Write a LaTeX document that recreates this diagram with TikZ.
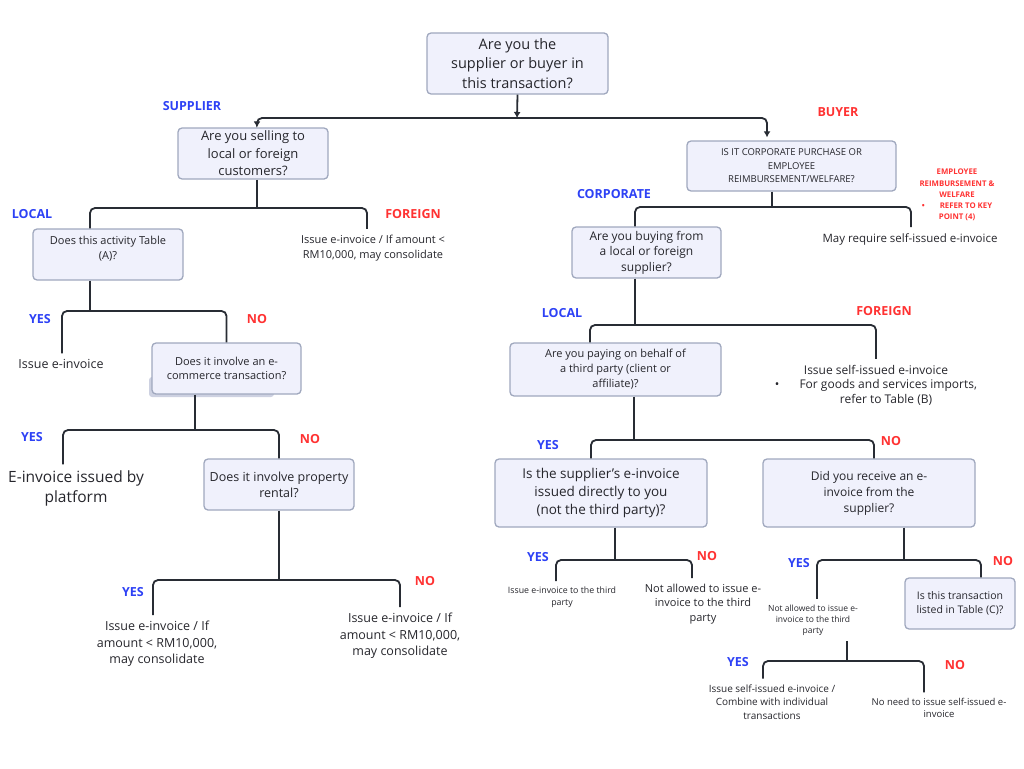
\documentclass[tikz,border=0pt]{standalone}
\usepackage{fontspec}
\setmainfont{Open Sans}
\usepackage{xcolor}
\usetikzlibrary{positioning, arrows.meta, calc}
\definecolor{flowink}{RGB}{38,38,44}
\definecolor{flowline}{RGB}{40,44,52}
\definecolor{flowfill}{RGB}{240,241,252}
\definecolor{flowedge}{RGB}{160,168,190}
\definecolor{flowshade}{RGB}{205,209,225}
\definecolor{flowblue}{RGB}{45,65,245}
\definecolor{flowred}{RGB}{255,50,50}
\newcommand{\fsz}[2]{\fontsize{#1}{#2}\selectfont}
\tikzset{
  qbox/.style={draw=flowedge, fill=flowfill, rounded corners=4pt, line width=1.3pt, align=center, text=flowink, inner sep=0pt},
  outtext/.style={align=center, text=flowink, inner sep=2pt, outer sep=4pt},
  yeslbl/.style={text=flowblue, font=\bfseries\fsz{12.5}{14}},
  nolbl/.style={text=flowred, font=\bfseries\fsz{12.5}{14}},
  branch/.style={draw=flowline, line width=1.8pt, rounded corners=5pt},
  arr/.style={branch, -{Latex[length=6pt, width=7pt]}}
}

\begin{document}
\begin{tikzpicture}[x=1pt, y=-1pt]
    \useasboundingbox (0,0) rectangle (1024,768);

    % question boxes
    \node[qbox, minimum width=181pt, minimum height=61pt, font=\fsz{14.5}{19.5}] (q0) at (517.5,63.5) {Are you the\\supplier or buyer in\\this transaction?};
    \node[qbox, minimum width=150pt, minimum height=51pt, font=\fsz{13}{17.5}] (qsup) at (253,153.5) {Are you selling to\\local or foreign\\customers?};
    \node[qbox, minimum width=209pt, minimum height=50pt, font=\fsz{9.5}{13.5}] (qbuy) at (791.5,166) {IS IT CORPORATE PURCHASE OR\\EMPLOYEE\\REIMBURSEMENT/WELFARE?};
    \node[qbox, minimum width=150pt, minimum height=51pt, text depth=13pt, font=\fsz{11}{15}] (tabA) at (108,254.5) {Does this activity Table\\(A)?};
    \fill[flowshade, rounded corners=3pt] (149,377) rectangle (274,397);
    \node[qbox, minimum width=149pt, minimum height=51pt, font=\fsz{11}{14}] (qecom) at (226.5,368.5) {Does it involve an e-\\commerce transaction?};
    \node[qbox, minimum width=150pt, minimum height=51pt, font=\fsz{12.5}{16}] (qprop) at (279,484.5) {Does it involve property\\rental?};
    \node[qbox, minimum width=149pt, minimum height=51pt, font=\fsz{12}{15.5}] (qfrom) at (646.5,252.5) {Are you buying from\\a local or foreign\\supplier?};
    \node[qbox, minimum width=211pt, minimum height=53pt, font=\fsz{11}{15}] (qthird) at (615.5,369.5) {Are you paying on behalf of\\a third party (client or\\affiliate)?};
    \node[qbox, minimum width=212pt, minimum height=68pt, font=\fsz{13.5}{18}] (qdirect) at (601,493) {Is the supplier’s e-invoice\\issued directly to you\\(not the third party)?};
    \node[qbox, minimum width=212pt, minimum height=68pt, font=\fsz{12}{16}] (qrecv) at (869,493) {Did you receive an e-\\invoice from the\\supplier?};
    \node[qbox, minimum width=110pt, minimum height=51pt, font=\fsz{10.5}{14}] (qtabC) at (960,603.5) {Is this transaction\\listed in Table (C)?};

    % outcomes
    \node[outtext, font=\fsz{11}{15}] (forA) at (373,248) {Issue e-invoice / If amount <\\RM10,000, may consolidate};
    \node[outtext, font=\fsz{12.5}{15}] (tissue) at (61,364) {Issue e-invoice};
    \node[outtext, font=\fsz{15.5}{20}] (tplat) at (76,488) {E-invoice issued by\\platform};
    \node[outtext, font=\fsz{12.5}{16.5}] (tpropy) at (157,644) {Issue e-invoice / If\\amount < RM10,000,\\may consolidate};
    \node[outtext, font=\fsz{12.5}{16.5}] (tpropn) at (400,636) {Issue e-invoice / If\\amount < RM10,000,\\may consolidate};
    \node[outtext, font=\fsz{11.5}{14}] (tselfreq) at (910,239) {May require self-issued e-invoice};
    \node[outtext, font=\fsz{12}{14.5}] (tforB) at (876,385) {Issue self-issued e-invoice\\\textbullet\hspace{20pt}For goods and services imports,\\\hspace*{20pt}refer to Table (B)};
    \node[outtext, font=\fsz{8.8}{12}] (tthird) at (562,597.5) {Issue e-invoice to the third\\party};
    \node[outtext, font=\fsz{11}{14.5}] (tnotal) at (703,604) {Not allowed to issue e-\\invoice to the third\\party};
    \node[outtext, font=\fsz{8.5}{11}] (tnotal2) at (813,620) {Not allowed to issue e-\\invoice to the third\\party};
    \node[outtext, font=\fsz{10}{13.5}] (tcombine) at (772,702) {Issue self-issued e-invoice /\\Combine with individual\\transactions};
    \node[outtext, font=\fsz{9.5}{12}] (tnoneed) at (939,708) {No need to issue self-issued e-\\invoice};
    \node[align=center, text=flowred, font=\bfseries\fsz{7.8}{11.2}] (tkeypt) at (957,195) {EMPLOYEE\\REIMBURSEMENT \&\\WELFARE\\\textbullet\hspace{15pt}REFER TO KEY\\POINT (4)};

    % branch labels
    \node[yeslbl] (lsup) at (192,106) {SUPPLIER};
    \node[nolbl] (lbuy) at (838,112) {BUYER};
    \node[yeslbl] (llocA) at (32,214) {LOCAL};
    \node[nolbl] (lforA) at (413,214) {FOREIGN};
    \node[yeslbl] (lyesA) at (40,319) {YES};
    \node[nolbl] (lnoA) at (257,319) {NO};
    \node[yeslbl] (lyesB) at (32,437) {YES};
    \node[nolbl] (lnoB) at (310,439) {NO};
    \node[yeslbl] (lyesC) at (133,592) {YES};
    \node[nolbl] (lnoC) at (425,581) {NO};
    \node[yeslbl] (lcorp) at (614,194) {CORPORATE};
    \node[yeslbl] (llocB) at (562,313) {LOCAL};
    \node[nolbl] (lforB) at (884,311) {FOREIGN};
    \node[yeslbl] (lyesD) at (548,445) {YES};
    \node[nolbl] (lnoD) at (891,441) {NO};
    \node[yeslbl] (lyesE) at (538,557) {YES};
    \node[nolbl] (lnoE) at (707,556) {NO};
    \node[yeslbl] (lyesF) at (799,563) {YES};
    \node[nolbl] (lnoF) at (1003,561) {NO};
    \node[yeslbl] (lyesG) at (738,662) {YES};
    \node[nolbl] (lnoG) at (955,665) {NO};

    % forks
    \coordinate (fork0) at (517,118);
    \coordinate (fsup) at (257,208);
    \coordinate (ftabA) at (90,311);
    \coordinate (fecom) at (195,430);
    \coordinate (fprop) at (279,580);
    \coordinate (fbuy) at (772,207);
    \coordinate (fcorp) at (635,325);
    \coordinate (fthird) at (634,440);
    \coordinate (fdirect) at (615,560);
    \coordinate (frecv) at (904,560);
    \coordinate (fnotal) at (847,661);

    \draw[arr] (q0.south) -- (fork0);
    \draw[arr] (fork0) -| ([xshift=4pt]qsup.north);
    \draw[arr, shorten >=3pt] (fork0) -| ([xshift=-24.5pt]qbuy.north);

    \draw[branch] (qsup.south -| fsup) -- (fsup);
    \draw[branch] ([xshift=-18pt]tabA.north) |- (fsup) -| ([xshift=-6pt]forA.north);
    \draw[branch] (tabA.south -| ftabA) -- (ftabA);
    \draw[branch] ([xshift=1pt]tissue.north) |- (ftabA) -| (qecom.north);
    \draw[branch] (qecom.south -| fecom) -- (fecom);
    \draw[branch] ([xshift=-13pt]tplat.north) |- (fecom) -| (qprop.north);
    \draw[branch] (qprop.south -| fprop) -- (fprop);
    \draw[branch] ([xshift=-4pt]tpropy.north) |- (fprop) -| (tpropn.north);

    \draw[branch] (qbuy.south -| fbuy) -- (fbuy);
    \draw[branch] ([xshift=-11.5pt]qfrom.north) |- (fbuy) -| ([xshift=1pt]tselfreq.north);
    \draw[branch] (qfrom.south -| fcorp) -- (fcorp);
    \draw[branch] ([xshift=-25.5pt]qthird.north) |- (fcorp) -| (tforB.north);
    \draw[branch] (qthird.south -| fthird) -- (fthird);
    \draw[branch] ([xshift=-10pt]qdirect.north) |- (fthird) -| ([xshift=5pt]qrecv.north);
    \draw[branch] (qdirect.south -| fdirect) -- (fdirect);
    \draw[branch] ([xshift=-6pt]tthird.north) |- (fdirect) -| ([xshift=-11pt]tnotal.north);
    \draw[branch] (qrecv.south -| frecv) -- (frecv);
    \draw[branch] ([xshift=4pt]tnotal2.north) |- (frecv) -| ([xshift=21pt]qtabC.north);
    \draw[branch] (tnotal2.south -| fnotal) -- (fnotal);
    \draw[branch] ([xshift=-9pt]tcombine.north) |- (fnotal) -| ([xshift=-15pt]tnoneed.north);
\end{tikzpicture}
\end{document}
